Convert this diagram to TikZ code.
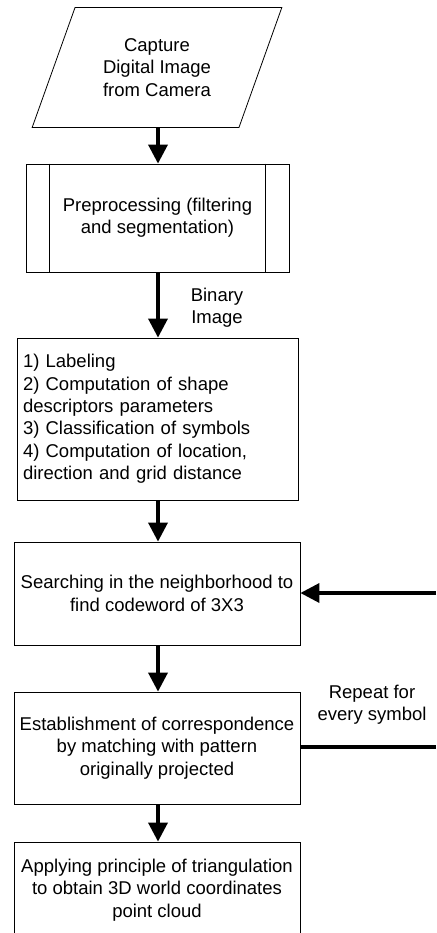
\documentclass[tikz,border=0pt]{standalone}
\usepackage{fontspec}
\setmainfont{Liberation Sans}
\usetikzlibrary{arrows.meta,shapes.geometric}

\tikzset{
  flowbox/.style={draw, line width=0.8pt, align=center, inner sep=0pt, minimum width=286pt},
  flowarrow/.style={line width=3.5pt, -{Triangle[length=19pt,width=19pt]}},
  flowline/.style={line width=3.5pt},
}

\begin{document}
\begin{tikzpicture}[x=1pt,y=-1pt,font=\fontsize{18.5}{22.4}\selectfont]
    \clip (0,0) rectangle (436,933);

    % input
    \node[draw, line width=0.8pt, trapezium, trapezium left angle=64, trapezium right angle=116,
          trapezium stretches=true, minimum width=250pt, minimum height=120pt, align=center,
          inner sep=0pt] (cap) at (157,67.5) {Capture\\Digital Image\\from Camera};

    % predefined process
    \node[flowbox, minimum width=263pt, minimum height=108pt] (pre) at (157.5,218)
        {Preprocessing (filtering\\and segmentation)};
    \draw[line width=0.8pt] (pre.north west) ++(24,0) -- ++(0,108);
    \draw[line width=0.8pt] (pre.north east) ++(-24,0) -- ++(0,108);

    \node[flowbox, minimum width=0pt, text width=269pt, inner xsep=6pt, align=left,
          minimum height=162pt] (lab) at (157.5,419)
        {1) Labeling\\2) Computation of shape\\descriptors parameters\\3) Classification of symbols\\4) Computation of location,\\direction and grid distance};

    \node[flowbox, minimum height=103pt] (srch) at (157,593.5)
        {Searching in the neighborhood to\\find codeword of 3X3};

    \node[flowbox, minimum height=112pt] (corr) at (157,748)
        {Establishment of correspondence\\by matching with pattern\\originally projected};

    \node[flowbox, minimum height=96pt] (tri) at (157,890)
        {Applying principle of triangulation\\to obtain 3D world coordinates\\point cloud};

    % loop back
    \coordinate (fbin) at (436,593);
    \coordinate (fbout) at (436,747);

    \draw[flowarrow] (cap.south -| 158,0) -- (pre.north -| 158,0);
    \draw[flowarrow] (pre.south -| 158,0) -- (lab.north -| 158,0);
    \draw[flowarrow] (lab.south -| 158,0) -- (srch.north -| 158,0);
    \draw[flowarrow] (srch.south -| 158,0) -- (corr.north -| 158,0);
    \draw[flowarrow] (corr.south -| 158,0) -- (tri.north -| 158,0);
    \draw[flowarrow] (fbin) -- (fbin -| srch.east);
    \draw[flowline] (corr.east |- fbout) -- (fbout);

    \node[align=center, inner sep=0pt] (bin) at (217,308) {Binary\\Image};
    \node[align=center, inner sep=0pt] (rep) at (372,705) {Repeat for\\every symbol};
\end{tikzpicture}
\end{document}
